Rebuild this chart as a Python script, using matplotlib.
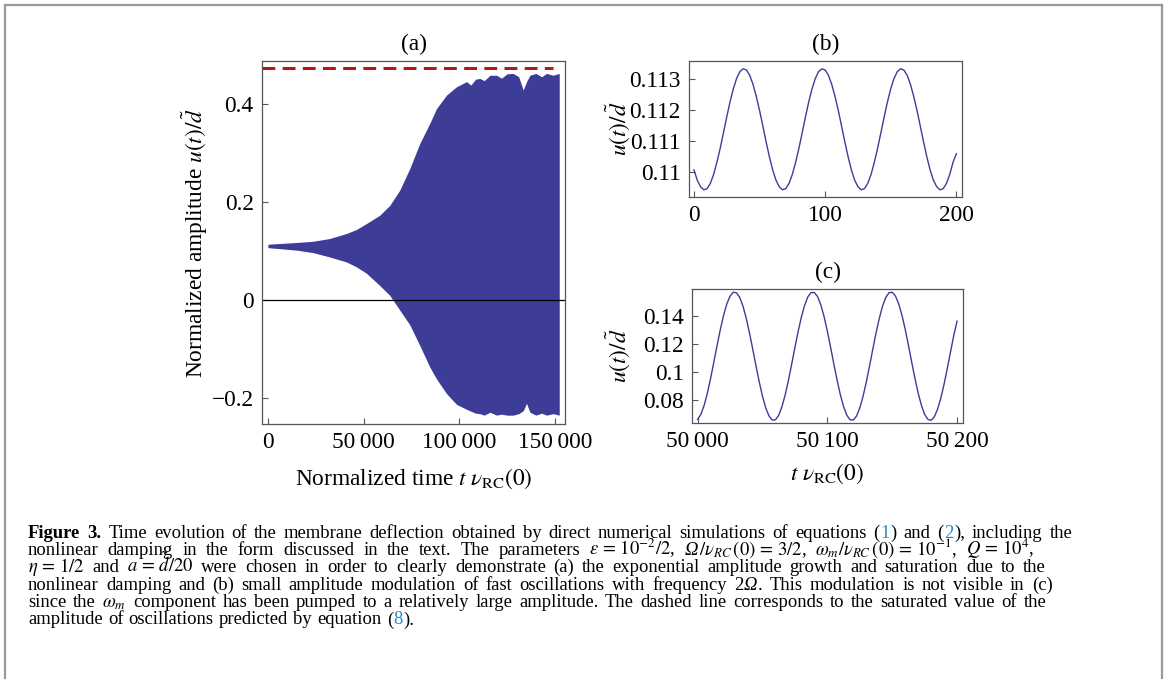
import re
import numpy as np
import matplotlib
matplotlib.use("Agg")
import matplotlib.pyplot as plt
from matplotlib.lines import Line2D

plt.rcParams['font.family'] = ['Liberation Serif', 'DejaVu Serif']
plt.rcParams['mathtext.fontset'] = 'stix'

# ---- data ----
# (a) envelope of the fast oscillation
t_env = [0, 14820, 23540, 32250, 40970, 46200, 51430, 58400, 63630, 68860,
         74090, 79320, 84550, 88040, 93270, 98500, 103730, 106000, 108500,
         110700, 113000, 116000, 119420, 122000, 125000, 128140, 131000,
         133370, 135110, 136850, 140000, 143000, 145570, 149000, 152190]
upper = [0.114, 0.1175, 0.120, 0.1256, 0.1358, 0.144, 0.156, 0.173, 0.193, 0.224,
         0.268, 0.319, 0.360, 0.390, 0.4175, 0.4345, 0.445, 0.438, 0.450,
         0.4515, 0.447, 0.458, 0.458, 0.452, 0.461, 0.4617, 0.455,
         0.428, 0.445, 0.458, 0.4617, 0.455, 0.4617, 0.458, 0.4617]
lower = [0.107, 0.102, 0.097, 0.088, 0.078, 0.068, 0.055, 0.030, 0.010, -0.020,
         -0.050, -0.092, -0.136, -0.160, -0.190, -0.212, -0.222, -0.226, -0.230,
         -0.231, -0.234, -0.228, -0.234, -0.232, -0.234, -0.234, -0.231,
         -0.225, -0.210, -0.228, -0.234, -0.230, -0.234, -0.231, -0.234]
t_sat = [-3100, 148700]
u_sat = 0.473

# (b) zoom near t = 0, step 2.5
t_b = np.arange(0, 200.1, 2.5)
u_b = [0.11008, 0.10975, 0.10954, 0.10944, 0.10948, 0.10965, 0.10994, 0.11033,
       0.11078, 0.11128, 0.11179, 0.11227, 0.11269, 0.11302, 0.11324, 0.11333,
       0.11329, 0.11312, 0.11283, 0.11244, 0.11199, 0.11149, 0.11098, 0.11050,
       0.11008, 0.10975, 0.10954, 0.10944, 0.10948, 0.10965, 0.10994, 0.11033,
       0.11078, 0.11128, 0.11179, 0.11227, 0.11269, 0.11302, 0.11324, 0.11333,
       0.11329, 0.11312, 0.11283, 0.11244, 0.11199, 0.11149, 0.11098, 0.11050,
       0.11008, 0.10975, 0.10954, 0.10944, 0.10948, 0.10965, 0.10994, 0.11033,
       0.11078, 0.11128, 0.11179, 0.11227, 0.11269, 0.11302, 0.11324, 0.11333,
       0.11329, 0.11312, 0.11283, 0.11244, 0.11199, 0.11149, 0.11098, 0.11050,
       0.11008, 0.10975, 0.10954, 0.10944, 0.10948, 0.10965, 0.10994, 0.11033,
       0.11060]

# (c) zoom near t = 50000, step 2.5
t_c = 50000 + np.arange(0, 200.1, 2.5)
u_c = [0.0662, 0.0697, 0.0761, 0.0848, 0.0953, 0.1069, 0.1187, 0.1301, 0.1402,
       0.1484, 0.1540, 0.1568, 0.1564, 0.1531, 0.1469, 0.1383, 0.1279, 0.1164,
       0.1045, 0.0931, 0.0829, 0.0746, 0.0688, 0.0658, 0.0660, 0.0691, 0.0752,
       0.0836, 0.0939, 0.1054, 0.1173, 0.1288, 0.1391, 0.1475, 0.1535, 0.1566,
       0.1566, 0.1537, 0.1478, 0.1395, 0.1292, 0.1178, 0.1059, 0.0944, 0.0840,
       0.0755, 0.0693, 0.0660, 0.0658, 0.0686, 0.0743, 0.0825, 0.0926, 0.1040,
       0.1159, 0.1275, 0.1379, 0.1466, 0.1529, 0.1564, 0.1568, 0.1542, 0.1486,
       0.1406, 0.1306, 0.1192, 0.1073, 0.0957, 0.0852, 0.0764, 0.0699, 0.0663,
       0.0656, 0.0681, 0.0735, 0.0814, 0.0913, 0.1026, 0.1144, 0.1261, 0.1362]

xt_a = [0, 50000, 100000, 150000]
xl_a = ['0', '50\u2009000', '100\u2009000', '150\u2009000']
yt_a = [-0.2, 0, 0.2, 0.4]
yl_a = ['\u22120.2', '0', '0.2', '0.4']
xt_b = [0, 100, 200]
yt_b = [0.110, 0.111, 0.112, 0.113]
yl_b = ['0.11', '0.111', '0.112', '0.113']
xt_c = [50000, 50100, 50200]
xl_c = ['50\u2009000', '50\u2009100', '50\u2009200']
yt_c = [0.08, 0.10, 0.12, 0.14]
yl_c = ['0.08', '0.1', '0.12', '0.14']

# caption lines: [[..]] = link colour, ~..~ = italic, **..** = bold
caption = [
    r'**Figure** **3.** Time evolution of the membrane deflection obtained by direct '
    r'numerical simulations of equations ([[1]]) and ([[2]]), including the',
    r'nonlinear damping in the form discussed in the text. The parameters '
    r'$\varepsilon\,=\,10^{-2}/2$, ~Ω~$/\nu_{RC}\,(0)\,=\,3/2$, '
    r'$\omega_m/\nu_{RC}\,(0)\,=\,10^{-1}$, $Q\,=\,10^4$,',
    r'$\eta\,=\,1/2$ and $a\,=\,\tilde{d}/20$ were chosen in order to clearly '
    r'demonstrate (a) the exponential amplitude growth and saturation due to the',
    r'nonlinear damping and (b) small amplitude modulation of fast oscillations '
    r'with frequency 2~Ω~. This modulation is not visible in (c)',
    r'since the $\omega_m$ component has been pumped to a relatively large '
    r'amplitude. The dashed line corresponds to the saturated value of the',
    r'amplitude of oscillations predicted by equation ([[8]]).',
]
caption_right = [1073, 1035, 1046, 1053, 1047, None]

blue = '#3d3d98'
red = '#b51818'
frame = '#555555'
fs = 16.8

W, H = 1165, 679
fig = plt.figure(figsize=(W / 100, H / 100), dpi=100)


def px_axes(l, t, r, b):
    return fig.add_axes([l / W, 1 - b / H, (r - l) / W, (b - t) / H])


def style(ax):
    for s in ax.spines.values():
        s.set_color(frame)
        s.set_linewidth(0.9)
    ax.tick_params(direction='in', length=4, width=0.8, color=frame,
                   labelsize=fs, pad=6)


# (a)
ax = px_axes(262, 61, 565, 424)
ax.fill_between(t_env, lower, upper, color=blue, lw=0)
ax.axhline(0, color='black', lw=0.9)
ax.plot(t_sat, [u_sat, u_sat], color=red, lw=2.2, ls=(0, (4.2, 2.4)))
ax.set_xlim(-3100, 155200)
ax.set_ylim(-0.252, 0.487)
ax.set_xticks(xt_a, xl_a)
ax.set_yticks(yt_a, yl_a)
style(ax)
ax.set_title('(a)', fontsize=fs, pad=8)
ax.set_xlabel(r'Normalized time $t\ \nu_{\mathrm{RC}}(0)$', fontsize=fs)
ax.set_ylabel(r'Normalized amplitude $u(t)/\tilde{d}$', fontsize=fs)
ax.yaxis.set_label_coords(-0.17, 0.5)
ax.xaxis.set_label_coords(0.5, -0.118)

# (b)
ax = px_axes(689, 61, 962, 197)
ax.plot(t_b, u_b, color=blue, lw=1.0)
ax.set_xlim(-3.8, 204.3)
ax.set_ylim(0.10921, 0.11358)
ax.set_xticks(xt_b)
ax.set_yticks(yt_b, yl_b)
style(ax)
ax.set_title('(b)', fontsize=fs, pad=8)
ax.set_ylabel(r'$u(t)/\tilde{d}$', fontsize=fs)
ax.yaxis.set_label_coords(-0.21, 0.5)

# (c)
ax = px_axes(692, 289, 963, 423)
ax.plot(t_c, u_c, color=blue, lw=1.0)
ax.set_xlim(49995.7, 50204.6)
ax.set_ylim(0.0637, 0.1591)
ax.set_xticks(xt_c, xl_c)
ax.set_yticks(yt_c, yl_c)
style(ax)
ax.set_title('(c)', fontsize=fs, pad=8)
ax.set_xlabel(r'$t\ \nu_{\mathrm{RC}}(0)$', fontsize=fs)
ax.set_ylabel(r'$u(t)/\tilde{d}$', fontsize=fs)
ax.yaxis.set_label_coords(-0.22, 0.5)
ax.xaxis.set_label_coords(0.5, -0.29)

# caption, set word by word so the lines can be justified
cap_fs = 13.4
link = '#2a8bc8'
rend = fig.canvas.get_renderer()


def text_w(s, **kw):
    t = fig.text(0, 0, s, fontsize=cap_fs, **kw)
    w = t.get_window_extent(rend).width
    t.remove()
    return w


space_w = text_w('a a') - text_w('aa')


def word_pieces(word):
    out = []
    bold = False
    for seg in re.split(r'(\[\[.*?\]\]|~.*?~|\*\*)', word):
        if seg == '**':
            bold = not bold
            continue
        if not seg:
            continue
        kw = dict(fontweight='bold') if bold else {}
        if seg.startswith('[['):
            out.append((seg[2:-2], dict(kw, color=link)))
        elif seg.startswith('~'):
            out.append((seg[1:-1], dict(kw, style='italic')))
        else:
            out.append((seg, kw))
    return out


def set_line(line, x_left, y_base, x_right):
    words = [word_pieces(w) for w in line.split(' ')]
    widths = [sum(text_w(s, **kw) + 0.6 for s, kw in wd) for wd in words]
    gap = space_w
    if x_right is not None and len(words) > 1:
        gap = max(space_w, (x_right - x_left - sum(widths)) / (len(words) - 1))
    x = x_left
    for wd, ww in zip(words, widths):
        xp = x
        for s, kw in wd:
            fig.text(xp / W, 1 - y_base / H, s, fontsize=cap_fs,
                     va='baseline', ha='left', **kw)
            xp += text_w(s, **kw) + 0.6
        x += ww + gap


for i, line in enumerate(caption):
    set_line(line, 28, 537.5 + 17.4 * i, caption_right[i])

# page frame
for xs, ys in [([5, 1161.5], [5, 5]), ([5, 5], [5, 679]), ([1161.5, 1161.5], [5, 679])]:
    fig.add_artist(Line2D([v / W for v in xs], [1 - v / H for v in ys],
                          color='#9a9a9a', lw=1.6))

fig.savefig('out.png', dpi=100)
